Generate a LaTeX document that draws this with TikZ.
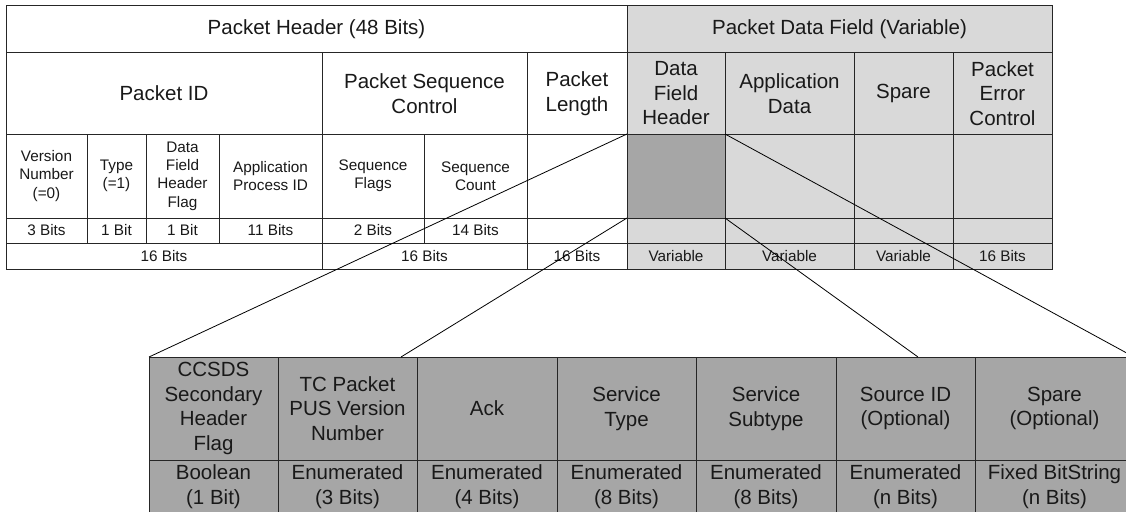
\documentclass[tikz,border=0pt]{standalone}
\usepackage{fontspec}
\setmainfont{Liberation Sans}
\definecolor{lightfld}{HTML}{D9D9D9}
\definecolor{darkfld}{HTML}{A6A6A6}
\tikzset{
fld/.style={draw=black!85,line width=1pt,inner sep=0pt,outer sep=0pt,align=center,text=black!90,font=\fontsize{15.3}{18.3}\selectfont},
bigfld/.style={fld,font=\fontsize{20.5}{24.5}\selectfont},
zoomline/.style={draw=black,line width=0.8pt}
}
\begin{document}
\begin{tikzpicture}[x=1pt,y=-1pt]
\useasboundingbox (0,0) rectangle (1126,511);
\clip (0,0) rectangle (1126,511);
\newcommand\fld[7]{
\node[#6,minimum width={(#3-#2)*1pt},minimum height={(#5-#4)*1pt}] (#1) at ({(#2+#3)/2},{(#4+#5)/2}) {#7};
}
\foreach \n/\xa/\xb/\col/\t in {hdr/6/627/white/{Packet Header (48 Bits)},pdf/627/1052/lightfld/{Packet Data Field (Variable)}}
\fld{\n}{\xa}{\xb}{6}{53}{bigfld,fill=\col}{\t};
\foreach \n/\xa/\xb/\col/\t in {pid/6/322/white/{Packet ID},psc/322/527/white/{Packet Sequence\\Control},plen/527/627/white/{Packet\\Length},dfh/627/725/lightfld/{Data\\Field\\Header},apd/725/854/lightfld/{Application\\Data},spr/854/953/lightfld/{Spare},pec/953/1052/lightfld/{Packet\\Error\\Control}}
\fld{\n}{\xa}{\xb}{53}{134}{bigfld,fill=\col}{\t};
\foreach \n/\xa/\xb/\col/\t in {ver/6/87/white/{Version\\Number\\(=0)},typ/87/146/white/{Type\\(=1)},flg/146/219/white/{Data\\Field\\Header\\Flag},apid/219/322/white/{Application\\Process ID},sqf/322/424/white/{Sequence\\Flags},sqc/424/527/white/{Sequence\\Count},lenx/527/627/white/{},dfx/627/725/darkfld/{},apx/725/854/lightfld/{},spx/854/953/lightfld/{},pex/953/1052/lightfld/{}}
\fld{\n}{\xa}{\xb}{134}{218}{fld,fill=\col}{\t};
\foreach \n/\xa/\xb/\col/\t in {verb/6/87/white/{3 Bits},typb/87/146/white/{1 Bit},flgb/146/219/white/{1 Bit},apidb/219/322/white/{11 Bits},sqfb/322/424/white/{2 Bits},sqcb/424/527/white/{14 Bits},lenb/527/627/white/{},dfb/627/725/lightfld/{},apb/725/854/lightfld/{},spb/854/953/lightfld/{},peb/953/1052/lightfld/{}}
\fld{\n}{\xa}{\xb}{218}{243}{fld,fill=\col}{\t};
\foreach \n/\xa/\xb/\col/\t in {pidt/6/322/white/{16 Bits},psct/322/527/white/{16 Bits},plent/527/627/white/{16 Bits},dfht/627/725/lightfld/{Variable},apdt/725/854/lightfld/{Variable},sprt/854/953/lightfld/{Variable},pect/953/1052/lightfld/{16 Bits}}
\fld{\n}{\xa}{\xb}{243}{269}{fld,fill=\col}{\t};
\foreach \n/\xa/\xb/\t/\v in {b1/149/278/{CCSDS\\Secondary\\Header\\Flag}/{Boolean\\(1 Bit)},b2/278/417/{TC Packet\\PUS Version\\Number}/{Enumerated\\(3 Bits)},b3/417/557/{Ack}/{Enumerated\\(4 Bits)},b4/557/696/{Service\\Type}/{Enumerated\\(8 Bits)},b5/696/836/{Service\\Subtype}/{Enumerated\\(8 Bits)},b6/836/975/{Source ID\\(Optional)}/{Enumerated\\(n Bits)},b7/975/1134/{Spare\\(Optional)}/{Fixed BitString\\(n Bits)}}
{
\fld{\n}{\xa}{\xb}{357}{460}{bigfld,fill=darkfld}{\t};
\fld{\n v}{\xa}{\xb}{460}{513}{bigfld,fill=darkfld}{\v};
}
\coordinate (zoomA) at (401,357);
\coordinate (zoomB) at (918,357);
\coordinate (zoomC) at (1134,357);
\draw[zoomline] (dfx.north west) -- (b1.north west);
\draw[zoomline] (dfx.south west) -- (zoomA);
\draw[zoomline] (dfx.south east) -- (zoomB);
\draw[zoomline] (dfx.north east) -- (zoomC);
\end{tikzpicture}
\end{document}
